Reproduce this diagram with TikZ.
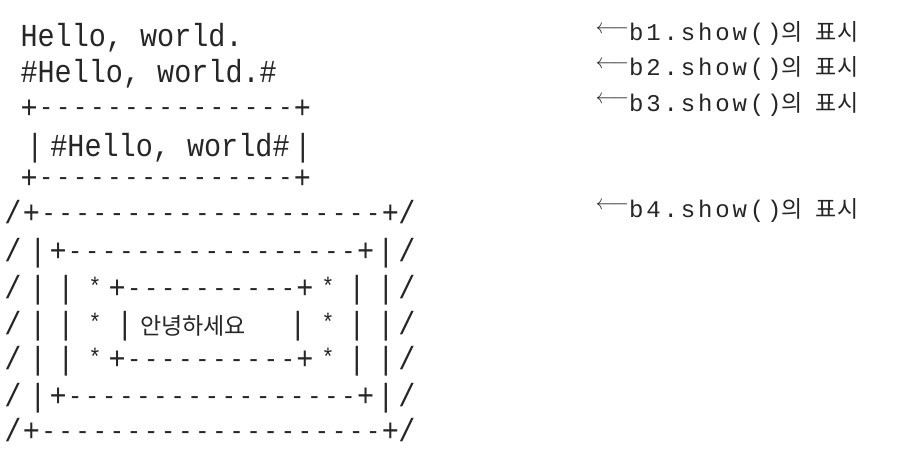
\documentclass[tikz,border=0pt]{standalone}
\usepackage{fontspec}
\usepackage{tikz}
\usetikzlibrary{positioning}
\newfontfamily\asciifont[FakeStretch=0.89,Ligatures=TeXOff]{Liberation Mono}
\newfontfamily\asciidashfont{Liberation Sans}
\newfontfamily\showfont[LetterSpace=12,Ligatures=TeXOff]{Liberation Mono}
\newfontfamily\hangulfont{Noto Sans CJK KR}
% a run of short dashes, one mono cell each
\newcommand{\dashrun}[1]{\foreach \k in {1,...,#1}{\makebox[17.09pt]{\raisebox{2pt}{\fontsize{26}{26}\selectfont\asciidashfont -}}}}

\begin{document}
\begin{tikzpicture}[
  x=1pt, y=-1pt,
  every node/.style={inner sep=0pt, outer sep=0pt, text=black!85},
  ascii/.style={font=\fontsize{32}{32}\selectfont\asciifont, anchor=base},
  asciirun/.style={ascii, anchor=base west},
  asciistar/.style={font=\fontsize{24}{24}\selectfont\asciifont, anchor=base},
  hangultext/.style={font=\fontsize{23}{23}\selectfont\hangulfont, anchor=base west},
  showtext/.style={font=\fontsize{24}{24}\selectfont\showfont, anchor=base west},
  showarrow/.style={font=\fontsize{20}{20}\selectfont, anchor=east}
]
\useasboundingbox[fill=white] (0,0) rectangle (906,452);

% b1 and b2
\node[asciirun] (hello) at (20.5,47) {Hello, world.};
\node[asciirun] (hashhello) at (20.5,83) {\#Hello, world.\#};

% b3: full border round b2
\node[asciirun] (b3top) at (20.5,118) {+\dashrun{15}+};
\node[ascii] (b3left) at (35,157) {|};
\node[ascii] (b3text) at (170,157) {\#Hello, world\#};
\node[ascii] (b3right) at (303,157) {|};
\node[asciirun] (b3bottom) at (20.5,188) {+\dashrun{15}+};

% b4: outer slashes
\foreach \y [count=\i] in {223,261,298,334,369,406,441} {
  \node[ascii] (slashl\i) at (13,\y) {/};
  \node[ascii] (slashr\i) at (407,\y) {/};
}
% b4: full border, two levels
\node[asciirun] (b4top) at (23,223) {+\dashrun{20}+};
\node[asciirun] (b4bottom) at (23,441) {+\dashrun{20}+};
\foreach \y [count=\i] in {261,298,334,369,406} {
  \node[ascii] (barl\i) at (38,\y) {|};
  \node[ascii] (barr\i) at (386,\y) {|};
}
\node[asciirun] (innertop) at (49.5,261) {+\dashrun{17}+};
\node[asciirun] (innerbottom) at (49.5,406) {+\dashrun{17}+};
% b4: side border with stars
\foreach \y [count=\i] in {298,334,369} {
  \node[ascii] (sidel\i) at (66,\y) {|};
  \node[asciistar] (starl\i) at (95,\y-4) {*};
  \node[asciistar] (starr\i) at (328,\y-4) {*};
  \node[ascii] (sider\i) at (357,\y) {|};
}
% b4: core string
\node[asciirun] (coretop) at (108.5,298) {+\dashrun{10}+};
\node[ascii] (coreleft) at (125,334) {|};
\node[hangultext] (helloko) at (140,334) {안녕하세요};
\node[ascii] (coreright) at (298,334) {|};
\node[asciirun] (corebottom) at (108.5,369) {+\dashrun{10}+};

% Labels on right
\foreach \n/\y in {1/41, 2/76, 3/111, 4/217} {
  \node[showtext] (show\n) at (629,\y) {b\n.show()};
  \node[showarrow] (arrow\n) at (629,\y-11) {$\longleftarrow$};
  \node[hangultext] (pyosi\n) at (781,\y) {의\hspace{0.6em}표시};
}
\end{tikzpicture}
\end{document}
